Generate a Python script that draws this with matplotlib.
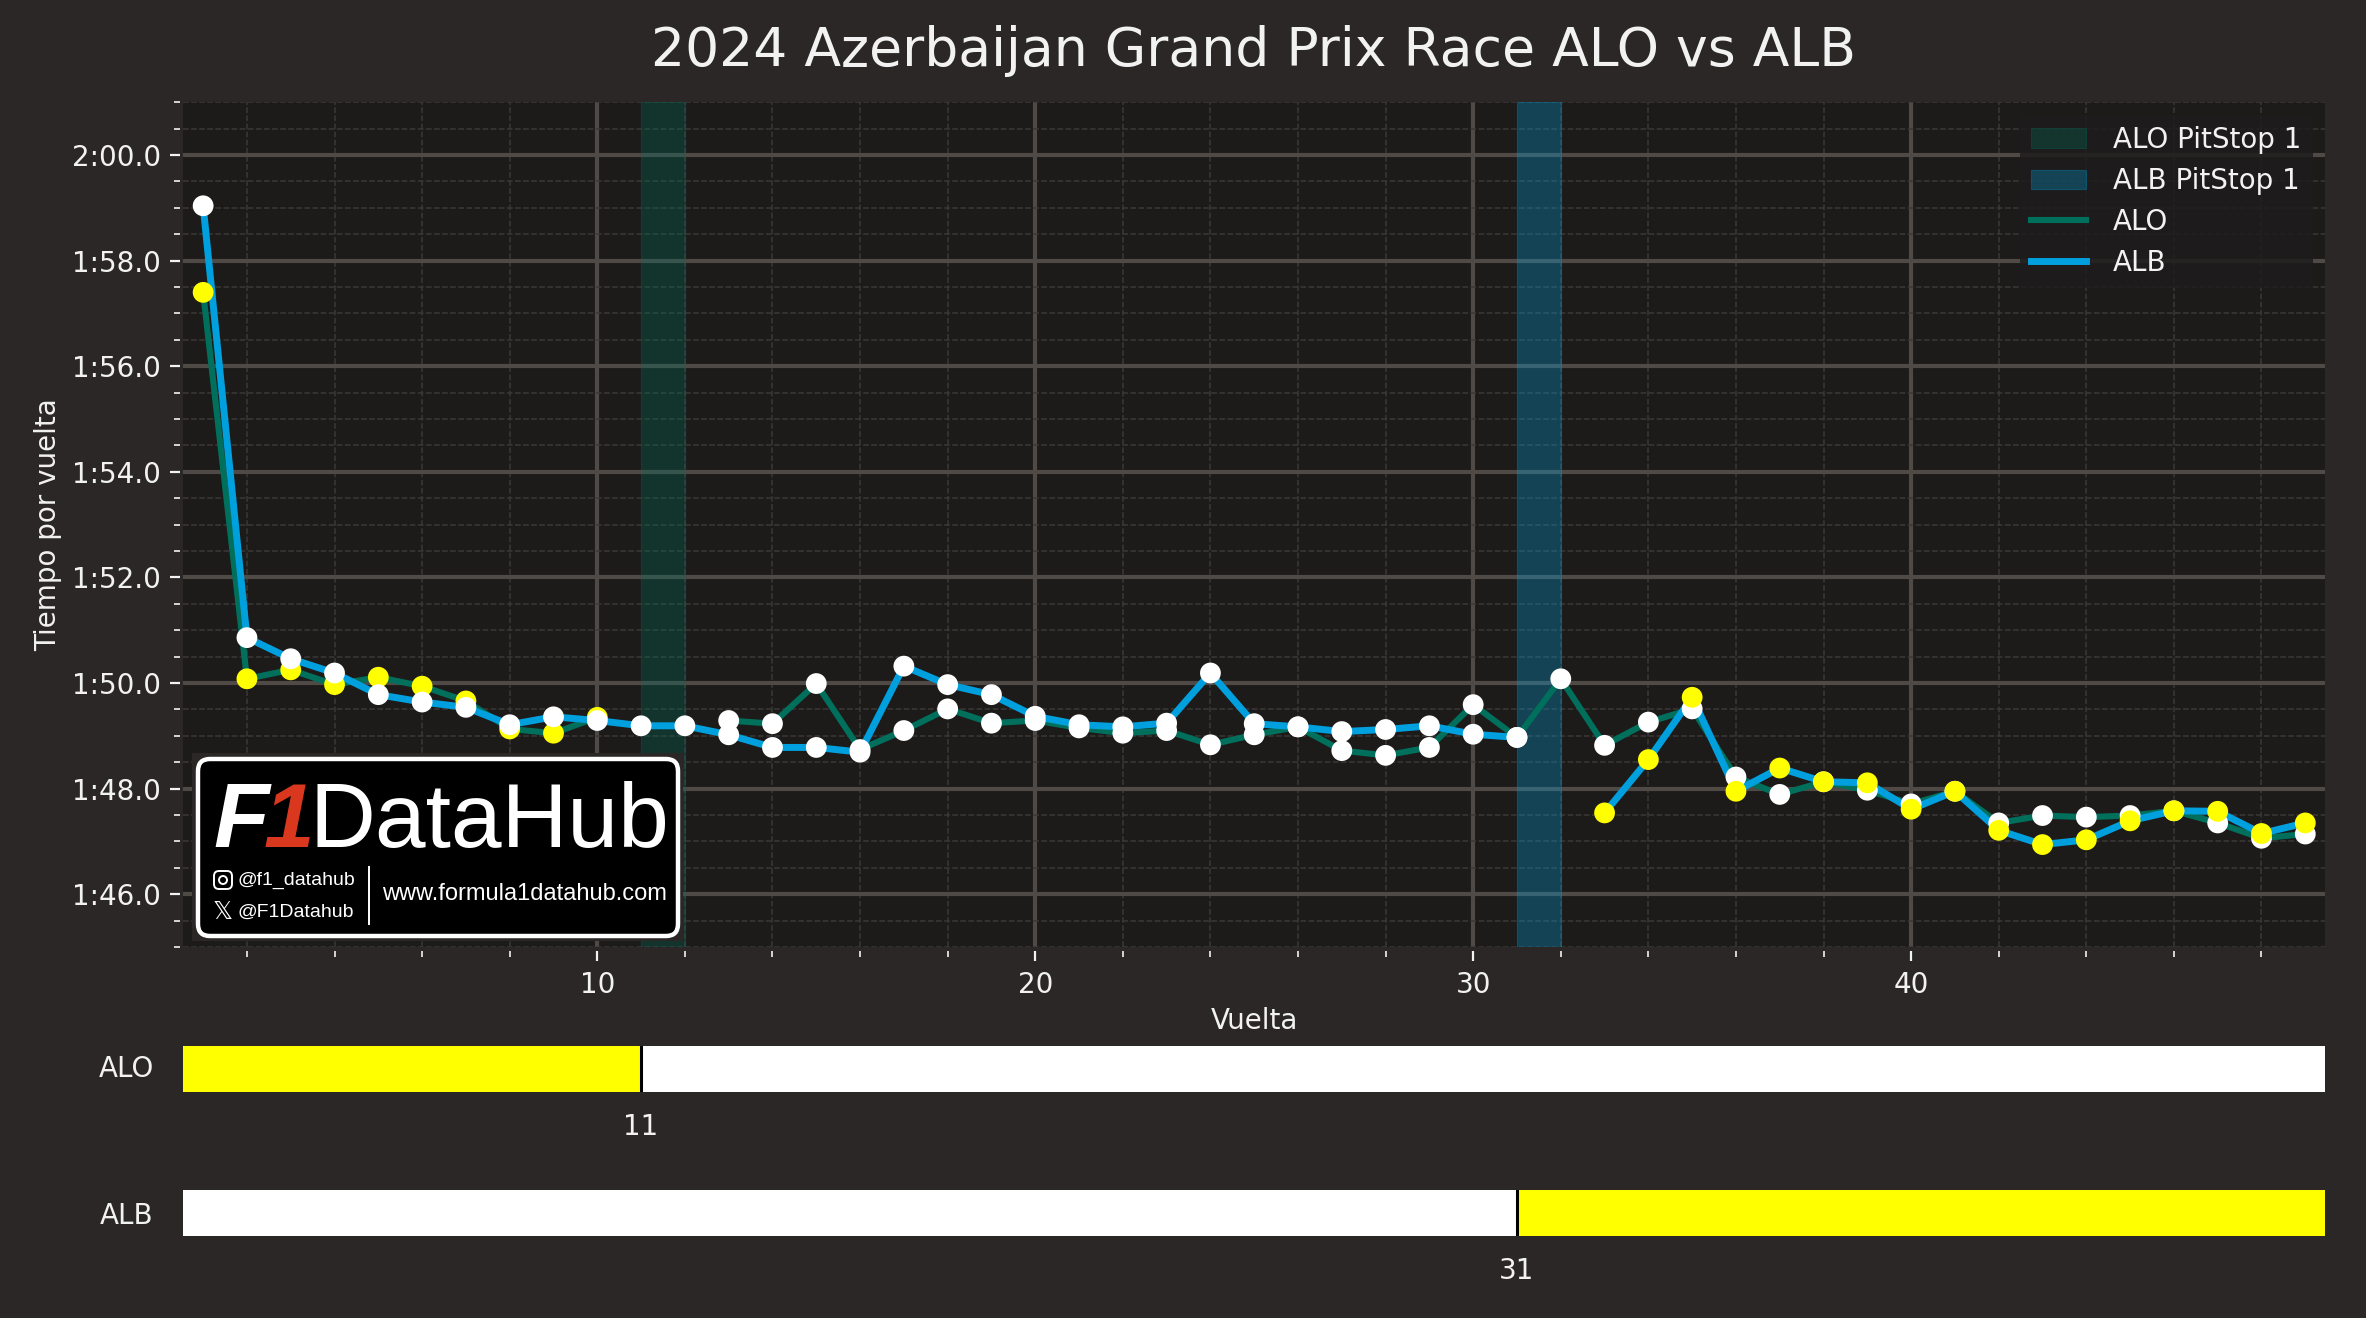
import numpy as np
import matplotlib
matplotlib.use('Agg')
import matplotlib.pyplot as plt
from matplotlib.patches import Circle, FancyBboxPatch, Rectangle
from matplotlib.ticker import FuncFormatter, MultipleLocator

nan = float('nan')

BG = '#2a2726'
AX_BG = '#1c1b1a'
ALO_COLOR = '#00705c'
ALB_COLOR = '#00a0de'
MEDIUM = '#ffff00'
HARD = '#ffffff'

laps = list(range(1, 50))
alo_times = [117.40, 110.08, 110.25, 109.97, 110.11, 109.94, 109.66, 109.13, 109.05, 109.35,
             nan, nan, 109.29, 109.23, 109.99, 108.74, 109.10, 109.51, 109.24, 109.29,
             109.15, 109.05, 109.10, 108.83, 109.02, 109.17, 108.72, 108.63, 108.78, 109.59,
             108.97, 110.08, 108.82, 109.26, 109.51, 108.22, 107.89, 108.13, 107.97, 107.71,
             107.95, 107.35, 107.49, 107.46, 107.49, 107.58, 107.35, 107.06, 107.14]
alb_times = [119.04, 110.86, 110.46, 110.19, 109.78, 109.64, 109.54, 109.21, 109.36, 109.29,
             109.19, 109.19, 109.02, 108.78, 108.78, 108.69, 110.32, 109.97, 109.78, 109.37,
             109.21, 109.17, 109.24, 110.19, 109.23, 109.17, 109.08, 109.12, 109.19, 109.03,
             108.97, nan, 107.54, 108.55, 109.73, 107.95, 108.39, 108.13, 108.11, 107.61,
             107.95, 107.21, 106.94, 107.03, 107.39, 107.58, 107.57, 107.15, 107.35]

# stints: (first lap boundary, last lap boundary, colour)
alo_stints = [(0, 11, MEDIUM), (11, 50, HARD)]
alb_stints = [(0, 31, HARD), (31, 50, MEDIUM)]
alo_pit = 11
alb_pit = 31


def stint_colors(stints):
    return [next(c for a, b, c in stints if a < lap <= b) for lap in laps]


def fmt_time(v, pos):
    return '%d:%04.1f' % (int(v // 60), v % 60)


W, H = 2366, 1318
plt.rcParams['font.family'] = 'DejaVu Sans'
plt.rcParams['text.color'] = '#f2f2f2'
plt.rcParams['axes.labelcolor'] = '#f2f2f2'
plt.rcParams['xtick.color'] = '#f2f2f2'
plt.rcParams['ytick.color'] = '#f2f2f2'

fig = plt.figure(figsize=(W / 200, H / 200), dpi=200, facecolor=BG)


def px_axes(x0, y0, x1, y1):
    return fig.add_axes([x0 / W, 1 - y1 / H, (x1 - x0) / W, (y1 - y0) / H])


ax = px_axes(183, 102.3, 2325, 947)
ax.set_facecolor(AX_BG)
ax.set_xlim(0.54, 49.45)
ax.set_ylim(105, 121)
ax.xaxis.set_major_locator(MultipleLocator(10))
ax.xaxis.set_minor_locator(MultipleLocator(2))
ax.yaxis.set_major_locator(MultipleLocator(2))
ax.yaxis.set_minor_locator(MultipleLocator(0.5))
ax.yaxis.set_major_formatter(FuncFormatter(fmt_time))
ax.grid(which='major', color='#4f4a46', lw=1.5, zorder=0)
ax.grid(which='minor', color='#3b3937', lw=0.55, ls='--', zorder=0)
ax.set_axisbelow(True)
for name, spine in ax.spines.items():
    spine.set_color(AX_BG)
    spine.set_linewidth(0)
ax.spines['left'].set_position(('outward', 1))
ax.spines['bottom'].set_position(('outward', 1.5))

ax.axvspan(alo_pit, alo_pit + 1, color=ALO_COLOR, alpha=0.3, lw=0.4, label='ALO PitStop 1')
ax.axvspan(alb_pit, alb_pit + 1, color=ALB_COLOR, alpha=0.3, lw=0.4, label='ALB PitStop 1')
ax.plot(laps, alo_times, color=ALO_COLOR, lw=2.2, label='ALO', zorder=3)
ax.plot(laps, alb_times, color=ALB_COLOR, lw=2.5, label='ALB', zorder=3.1)
ax.scatter(laps, alo_times, c=stint_colors(alo_stints), s=56, lw=0, zorder=4)
ax.scatter(laps, alb_times, c=stint_colors(alb_stints), s=56, lw=0, zorder=4.1)

ax.set_xlabel('Vuelta', fontsize=10, labelpad=3)
ax.set_ylabel('Tiempo por vuelta', fontsize=10, labelpad=3.5)
leg = ax.legend(loc='upper right', fontsize=10, facecolor='#1e1c1c', edgecolor='none', framealpha=0.85,
                fancybox=False, handletextpad=0.96, labelspacing=0.47, borderaxespad=0.45)
leg.set_zorder(6)
fig.text(0.53, 1 - 51 / H, '2024 Azerbaijan Grand Prix Race ALO vs ALB', fontsize=19.3,
         ha='center', va='center', color='#f2f2f2')


def stint_bar(box, label, stints, pit, label_y=0.5):
    a = px_axes(*box)
    a.set_facecolor(BG)
    a.set_xlim(ax.get_xlim())
    a.set_ylim(0, 1)
    for start, end, color in stints:
        a.barh(0.5, end - start, left=start, height=1, color=color, lw=0)
    a.axvline(pit, color='black', lw=1.1)
    a.set_yticks([label_y], [label])
    a.set_xticks([pit], [str(pit)])
    a.tick_params(axis='both', length=0, labelsize=10)
    a.tick_params(axis='y', pad=10.5)
    a.tick_params(axis='x', pad=7.5)
    for spine in a.spines.values():
        spine.set_visible(False)


stint_bar((183, 1046, 2325, 1092), 'ALO', alo_stints, alo_pit, label_y=0.56)
stint_bar((183, 1190, 2325, 1236), 'ALB', alb_stints, alb_pit)

# logo box, drawn in figure pixels
logo = fig.add_axes([0, 0, 1, 1], zorder=10)
logo.set_xlim(0, W)
logo.set_ylim(H, 0)
logo.axis('off')
logo.patch.set_alpha(0)
logo.add_patch(Rectangle((192, 753), 491, 188, color=BG, lw=0))
logo.add_patch(FancyBboxPatch((204, 765), 468, 165, boxstyle='round,pad=6,rounding_size=12',
                              fc='black', ec='white', lw=1.6))
sans = 'Liberation Sans'
logo.text(213, 847, 'F', family=sans, weight='bold', style='italic', fontsize=32.8, color='white',
          va='baseline', ha='left')
logo.text(289, 847, '1', family=sans, weight='bold', style='italic', fontsize=32.8, color='#d9381e',
          va='baseline', ha='center')
logo.text(310, 847, 'DataHub', family=sans, fontsize=32.8, color='white', va='baseline', ha='left')
logo.text(238, 880, '@f1_datahub', family=sans, fontsize=7, color='white', va='center')
logo.text(238, 912, '@F1Datahub', family=sans, fontsize=7, color='white', va='center')
logo.text(382, 894, 'www.formula1datahub.com', family=sans, fontsize=8.5, color='white', va='center')
logo.plot([369, 369], [867, 924], color='white', lw=0.7)
logo.add_patch(FancyBboxPatch((216, 873), 14, 14, boxstyle='round,pad=2,rounding_size=5',
                              fc='none', ec='white', lw=0.7))
logo.add_patch(Circle((223, 880), 4, fc='none', ec='white', lw=0.7))
logo.text(223, 912, '\U0001D54F', family='DejaVu Sans', fontsize=9, color='white', ha='center', va='center')

fig.savefig('out.png', dpi=200, facecolor=BG)
